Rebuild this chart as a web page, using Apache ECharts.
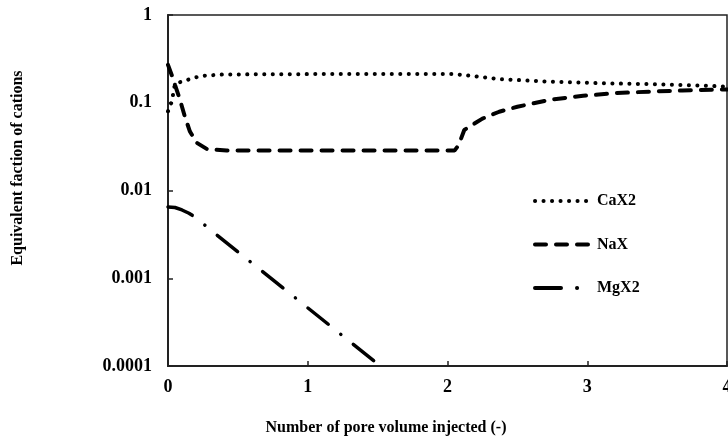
<!DOCTYPE html>
<html>
<head>
<meta charset="utf-8">
<script src="https://cdn.jsdelivr.net/npm/echarts@6/dist/echarts.min.js"></script>
<style>
  html, body { margin: 0; padding: 0; background: #fff; }
  #chart { width: 728px; height: 438px; }
</style>
</head>
<body>
<div id="chart"></div>
<script>
// pore volumes injected vs equivalent fraction (log scale)
const caX2 = [
  [0, 0.08], [0.027, 0.103], [0.05, 0.165], [0.12, 0.178], [0.18, 0.192],
  [0.25, 0.203], [0.4, 0.21], [1.0, 0.212], [2.05, 0.212], [2.2, 0.2],
  [2.37, 0.186], [2.73, 0.174], [3.09, 0.167], [3.45, 0.163], [3.81, 0.157], [4.0, 0.153]
]
const naX = [
  [0, 0.27], [0.03, 0.2], [0.05, 0.16], [0.086, 0.108], [0.12, 0.07],
  [0.157, 0.047], [0.205, 0.035], [0.28, 0.0296], [0.42, 0.0285], [2.05, 0.0285],
  [2.08, 0.033], [2.12, 0.049], [2.25, 0.066], [2.37, 0.079], [2.5, 0.09],
  [2.73, 0.108], [2.97, 0.12], [3.21, 0.129], [3.45, 0.134], [3.68, 0.138], [4.0, 0.142]
]
const mgX2 = [
  [0, 0.0065], [0.05, 0.0064], [0.1, 0.006], [0.15, 0.0055], [0.2, 0.0049],
  [0.3, 0.0036], [0.5, 0.002], [1.0, 0.00046], [1.52, 0.0001]
]
const yTickLabels = ['0.0001', '0.001', '0.01', '0.1', '1']
const seriesNames = ['CaX2', 'NaX', 'MgX2']

const font = '"Liberation Serif", "Times New Roman", serif'
const chart = echarts.init(document.getElementById('chart'))

chart.setOption({
  animation: false,
  grid: {
    left: 168, right: 1, top: 15, bottom: 72,
    outerBoundsMode: 'none',
    show: true, borderColor: '#222', borderWidth: 1.5
  },
  legend: {
    orient: 'vertical',
    left: 528, top: 188,
    itemWidth: 54, itemHeight: 14, itemGap: 27.5,
    itemStyle: { opacity: 0 },
    lineStyle: { width: 4 },
    textStyle: {
      fontFamily: font, fontWeight: 'bold', fontSize: 16, color: '#000',
      padding: [0, 0, 0, 3]
    },
    data: seriesNames
  },
  graphic: [
    {
      type: 'text', x: 386, y: 428,
      style: {
        text: 'Number of pore volume injected (-)',
        font: 'bold 16px ' + font, fill: '#000',
        align: 'center', verticalAlign: 'middle'
      }
    },
    {
      type: 'text', x: 18, y: 168, rotation: Math.PI / 2,
      style: {
        text: 'Equivalent faction of cations',
        font: 'bold 16px ' + font, fill: '#000',
        align: 'center', verticalAlign: 'middle'
      }
    }
  ],
  xAxis: {
    type: 'value', min: 0, max: 4, interval: 1,
    axisLine: { lineStyle: { color: '#222', width: 2 } },
    axisTick: { inside: true, length: 5, lineStyle: { color: '#222', width: 1.5 } },
    axisLabel: { margin: 12, fontFamily: font, fontWeight: 'bold', fontSize: 18, color: '#000' },
    splitLine: { show: false }
  },
  yAxis: {
    type: 'log', logBase: 10, min: 0.0001, max: 1,
    axisLine: { show: true, lineStyle: { color: '#222', width: 2 } },
    axisTick: { show: true, inside: true, length: 5, lineStyle: { color: '#222', width: 1.5 } },
    axisLabel: {
      margin: 16, fontFamily: font, fontWeight: 'bold', fontSize: 18, color: '#000',
      formatter: v => yTickLabels[Math.round(Math.log10(v)) + 4]
    },
    splitLine: { show: false },
    minorTick: { show: false }
  },
  series: [
    {
      name: seriesNames[0], type: 'line', data: caX2, symbol: 'none',
      itemStyle: { color: '#000' },
      lineStyle: { color: '#000', width: 4, type: [0.1, 8.4], cap: 'round' }
    },
    {
      name: seriesNames[1], type: 'line', data: naX, symbol: 'none',
      itemStyle: { color: '#000' },
      lineStyle: { color: '#000', width: 4, type: [11, 10], cap: 'round' }
    },
    {
      name: seriesNames[2], type: 'line', data: mgX2, symbol: 'none',
      itemStyle: { color: '#000' },
      lineStyle: { color: '#000', width: 3.5, type: [26, 16, 0.1, 16], cap: 'round' }
    }
  ]
})
</script>
</body>
</html>
